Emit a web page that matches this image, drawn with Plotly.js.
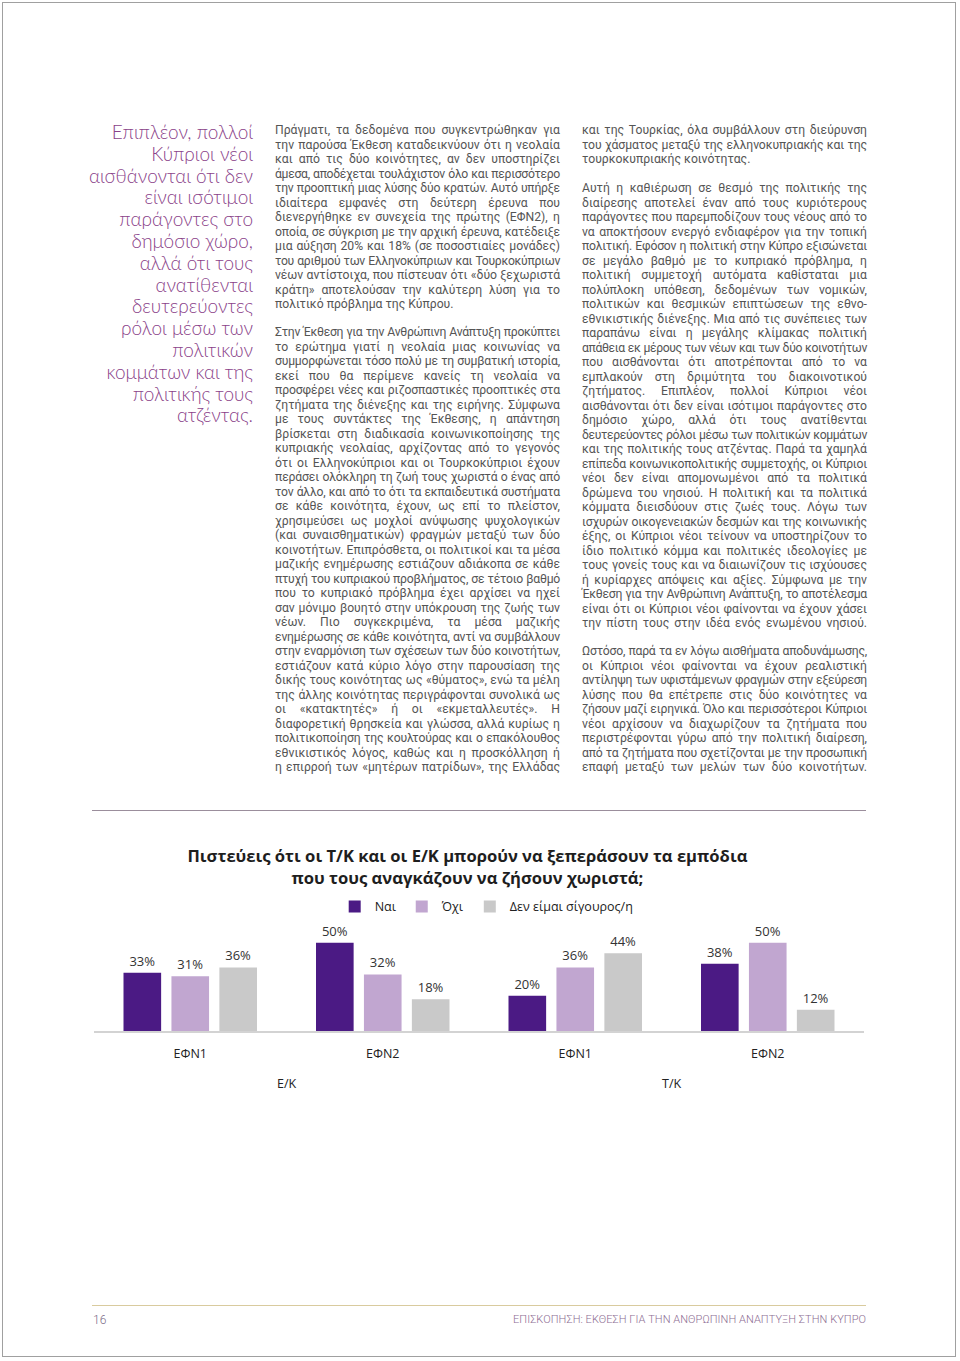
<!DOCTYPE html>
<html><head><meta charset="utf-8">
<script src="https://cdn.plot.ly/plotly-3.0.1.min.js"></script>
<style>
html,body{margin:0;padding:0;background:#fff;}
#page{position:relative;width:960px;height:1361px;overflow:hidden;background:#fff;}
.frame{position:absolute;left:2px;top:2px;width:954px;height:1355px;border:1px solid #a0a0a0;box-sizing:border-box;}
.ln{position:absolute;font-family:Roboto,sans-serif;font-size:12.2px;line-height:14.5px;color:#555;text-align:justify;text-align-last:justify;}
.ln.last{text-align-last:left;}
.pq{position:absolute;font-family:Lato,sans-serif;font-weight:300;font-size:19px;line-height:21.8px;color:#8a4289;text-align:right;white-space:nowrap;}
.rule{position:absolute;height:0;}
.foot{position:absolute;font-family:Roboto,sans-serif;font-weight:300;white-space:nowrap;}
#chart{position:absolute;left:0;top:830px;width:960px;height:280px;}
</style></head>
<body>
<div id="page">
  <div class="frame"></div>
  <div id="text"></div>
  <div class="rule" style="left:92px;top:810px;width:774px;border-top:1.5px solid #9b8e9c;"></div>
  <div class="rule" style="left:92px;top:1305px;width:774px;border-top:1.5px solid #d9cb9e;"></div>
  <div class="foot" style="left:93px;top:1313px;font-size:12px;color:#7a6a86;">16</div>
  <div class="foot" id="ftr" style="right:94px;top:1313px;font-size:11px;color:#8d6e93;">ΕΠΙΣΚΟΠΗΣΗ: ΕΚΘΕΣΗ ΓΙΑ ΤΗΝ ΑΝΘΡΩΠΙΝΗ ΑΝΑΠΤΥΞΗ ΣΤΗΝ ΚΥΠΡΟ</div>
  <div id="chart"></div>
</div>
<script>
// ---- Chart data ----
const communities = ["Ε/Κ","Ε/Κ","Τ/Κ","Τ/Κ"];
const surveys = ["ΕΦΝ1","ΕΦΝ2","ΕΦΝ1","ΕΦΝ2"];
const yesValues = [33,50,20,38];
const noValues = [31,32,36,50];
const notSureValues = [36,18,44,12];
const seriesNames = ["Ναι","Όχι","Δεν είμαι σίγουρος/η"];
const seriesColors = ["#4b1a84","#c1a6d0","#c9c9c9"];
const chartTitle = "Πιστεύεις ότι οι Τ/Κ και οι Ε/Κ μπορούν να ξεπεράσουν τα εμπόδια<br>που τους αναγκάζουν να ζήσουν χωριστά;";

// ---- Page text ----
const pullQuote = ["Επιπλέον, πολλοί","Κύπριοι νέοι","αισθάνονται ότι δεν","είναι ισότιμοι","παράγοντες στο","δημόσιο χώρο,","αλλά ότι τους","ανατίθενται","δευτερεύοντες","ρόλοι μέσω των","πολιτικών","κομμάτων και της","πολιτικής τους","ατζέντας."];

const col1 = [
 {top:123, last:false, lines:[
 "Πράγματι, τα δεδομένα που συγκεντρώθηκαν για",
 "την παρούσα Έκθεση καταδεικνύουν ότι η νεολαία",
 "και από τις δύο κοινότητες, αν δεν υποστηρίζει",
 "άμεσα, αποδέχεται τουλάχιστον όλο και περισσότερο",
 "την προοπτική μιας λύσης δύο κρατών. Αυτό υπήρξε",
 "ιδιαίτερα εμφανές στη δεύτερη έρευνα που",
 "διενεργήθηκε εν συνεχεία της πρώτης (ΕΦΝ2), η",
 "οποία, σε σύγκριση με την αρχική έρευνα, κατέδειξε",
 "μια αύξηση 20% και 18% (σε ποσοστιαίες μονάδες)",
 "του αριθμού των Ελληνοκύπριων και Τουρκοκύπριων",
 "νέων αντίστοιχα, που πίστευαν ότι «δύο ξεχωριστά",
 "κράτη» αποτελούσαν την καλύτερη λύση για το",
 "πολιτικό πρόβλημα της Κύπρου."]},
 {top:325, last:true, lines:[
 "Στην Έκθεση για την Ανθρώπινη Ανάπτυξη προκύπτει",
 "το ερώτημα γιατί η νεολαία μιας κοινωνίας να",
 "συμμορφώνεται τόσο πολύ με τη συμβατική ιστορία,",
 "εκεί που θα περίμενε κανείς τη νεολαία να",
 "προσφέρει νέες και ριζοσπαστικές προοπτικές στα",
 "ζητήματα της διένεξης και της ειρήνης. Σύμφωνα",
 "με τους συντάκτες της Έκθεσης, η απάντηση",
 "βρίσκεται στη διαδικασία κοινωνικοποίησης της",
 "κυπριακής νεολαίας, αρχίζοντας από το γεγονός",
 "ότι οι Ελληνοκύπριοι και οι Τουρκοκύπριοι έχουν",
 "περάσει ολόκληρη τη ζωή τους χωριστά ο ένας από",
 "τον άλλο, και από το ότι τα εκπαιδευτικά συστήματα",
 "σε κάθε κοινότητα, έχουν, ως επί το πλείστον,",
 "χρησιμεύσει ως μοχλοί ανύψωσης ψυχολογικών",
 "(και συναισθηματικών) φραγμών μεταξύ των δύο",
 "κοινοτήτων. Επιπρόσθετα, οι πολιτικοί και τα μέσα",
 "μαζικής ενημέρωσης εστιάζουν αδιάκοπα σε κάθε",
 "πτυχή του κυπριακού προβλήματος, σε τέτοιο βαθμό",
 "που το κυπριακό πρόβλημα έχει αρχίσει να ηχεί",
 "σαν μόνιμο βουητό στην υπόκρουση της ζωής των",
 "νέων. Πιο συγκεκριμένα, τα μέσα μαζικής",
 "ενημέρωσης σε κάθε κοινότητα, αντί να συμβάλλουν",
 "στην εναρμόνιση των σχέσεων των δύο κοινοτήτων,",
 "εστιάζουν κατά κύριο λόγο στην παρουσίαση της",
 "δικής τους κοινότητας ως «θύματος», ενώ τα μέλη",
 "της άλλης κοινότητας περιγράφονται συνολικά ως",
 "οι «κατακτητές» ή οι «εκμεταλλευτές». Η",
 "διαφορετική θρησκεία και γλώσσα, αλλά κυρίως η",
 "πολιτικοποίηση της κουλτούρας και ο επακόλουθος",
 "εθνικιστικός λόγος, καθώς και η προσκόλληση ή",
 "η επιρροή των «μητέρων πατρίδων», της Ελλάδας"]}
];
const col2 = [
 {top:123, last:false, lines:[
 "και της Τουρκίας, όλα συμβάλλουν στη διεύρυνση",
 "του χάσματος μεταξύ της ελληνοκυπριακής και της",
 "τουρκοκυπριακής κοινότητας."]},
 {top:181, last:true, lines:[
 "Αυτή η καθιέρωση σε θεσμό της πολιτικής της",
 "διαίρεσης αποτελεί έναν από τους κυριότερους",
 "παράγοντες που παρεμποδίζουν τους νέους από το",
 "να αποκτήσουν ενεργό ενδιαφέρον για την τοπική",
 "πολιτική. Εφόσον η πολιτική στην Κύπρο εξισώνεται",
 "σε μεγάλο βαθμό με το κυπριακό πρόβλημα, η",
 "πολιτική συμμετοχή αυτόματα καθίσταται μια",
 "πολύπλοκη υπόθεση, δεδομένων των νομικών,",
 "πολιτικών και θεσμικών επιπτώσεων της εθνο-",
 "εθνικιστικής διένεξης. Μια από τις συνέπειες των",
 "παραπάνω είναι η μεγάλης κλίμακας πολιτική",
 "απάθεια εκ μέρους των νέων και των δύο κοινοτήτων",
 "που αισθάνονται ότι αποτρέπονται από το να",
 "εμπλακούν στη δριμύτητα του διακοινοτικού",
 "ζητήματος. Επιπλέον, πολλοί Κύπριοι νέοι",
 "αισθάνονται ότι δεν είναι ισότιμοι παράγοντες στο",
 "δημόσιο χώρο, αλλά ότι τους ανατίθενται",
 "δευτερεύοντες ρόλοι μέσω των πολιτικών κομμάτων",
 "και της πολιτικής τους ατζέντας. Παρά τα χαμηλά",
 "επίπεδα κοινωνικοπολιτικής συμμετοχής, οι Κύπριοι",
 "νέοι δεν είναι απομονωμένοι από τα πολιτικά",
 "δρώμενα του νησιού. Η πολιτική και τα πολιτικά",
 "κόμματα διεισδύουν στις ζωές τους. Λόγω των",
 "ισχυρών οικογενειακών δεσμών και της κοινωνικής",
 "έξης, οι Κύπριοι νέοι τείνουν να υποστηρίζουν το",
 "ίδιο πολιτικό κόμμα και πολιτικές ιδεολογίες με",
 "τους γονείς τους και να διαιωνίζουν τις ισχύουσες",
 "ή κυρίαρχες απόψεις και αξίες. Σύμφωνα με την",
 "Έκθεση για την Ανθρώπινη Ανάπτυξη, το αποτέλεσμα",
 "είναι ότι οι Κύπριοι νέοι φαίνονται να έχουν χάσει",
 "την πίστη τους στην ιδέα ενός ενωμένου νησιού."]},
 {top:644, last:true, lines:[
 "Ωστόσο, παρά τα εν λόγω αισθήματα αποδυνάμωσης,",
 "οι Κύπριοι νέοι φαίνονται να έχουν ρεαλιστική",
 "αντίληψη των υφιστάμενων φραγμών στην εξεύρεση",
 "λύσης που θα επέτρεπε στις δύο κοινότητες να",
 "ζήσουν μαζί ειρηνικά. Όλο και περισσότεροι Κύπριοι",
 "νέοι αρχίσουν να διαχωρίζουν τα ζητήματα που",
 "περιστρέφονται γύρω από την πολιτική διαίρεση,",
 "από τα ζητήματα που σχετίζονται με την προσωπική",
 "επαφή μεταξύ των μελών των δύο κοινοτήτων."]}
];

const textBox = document.getElementById('text');
const measurer = document.createElement('span');
measurer.className = 'ln';
measurer.style.cssText = 'position:absolute;visibility:hidden;white-space:nowrap;left:0;top:0;';
textBox.appendChild(measurer);

function renderColumn(paras, left, width){
  paras.forEach(p => {
    p.lines.forEach((t, i) => {
      const d = document.createElement('div');
      const isLast = (i === p.lines.length - 1) && !p.last;
      d.className = 'ln' + (isLast ? ' last' : '');
      d.style.left = left + 'px';
      d.style.top = (p.top + i * 14.5) + 'px';
      d.style.width = width + 'px';
      d.textContent = t;
      measurer.textContent = t;
      const w = measurer.getBoundingClientRect().width;
      if (w > width - 2) {
        d.style.letterSpacing = (-(w - width + 3) / t.length) + 'px';
      }
      textBox.appendChild(d);
    });
  });
}
renderColumn(col1, 275, 285);
renderColumn(col2, 582, 285);

pullQuote.forEach((t, i) => {
  const d = document.createElement('div');
  d.className = 'pq';
  d.style.right = (960 - 253) + 'px';
  d.style.top = (121 + i * 21.8) + 'px';
  d.textContent = t;
  textBox.appendChild(d);
});

// fit footer text to reference width
const ftr = document.getElementById('ftr');
const fw = ftr.getBoundingClientRect().width;
ftr.style.letterSpacing = ((353 - fw) / ftr.textContent.length) + 'px';

// ---- Chart ----
const catKeys = communities.map((c, i) => c + ' ' + surveys[i]);
const allValues = [yesValues, noValues, notSureValues];
const traces = allValues.map((vals, k) => ({
  type: 'bar',
  name: seriesNames[k],
  x: catKeys,
  y: vals,
  text: vals.map(v => v + '%'),
  textposition: 'outside',
  cliponaxis: false,
  textfont: {family: 'Open Sans, sans-serif', size: 13, color: '#333'},
  marker: {color: seriesColors[k]},
  hoverinfo: 'skip'
}));

// outer group labels centred under their categories
const groups = [...new Set(communities)];
const groupAnnotations = groups.map(g => {
  const idx = communities.map((c, i) => c === g ? i : -1).filter(i => i >= 0);
  const mid = idx.reduce((a, b) => a + b, 0) / idx.length;
  return {text: g, x: mid, xref: 'x', y: -52/106, yref: 'paper', yanchor: 'middle',
          showarrow: false, font: {size: 12.5, color: '#222'}};
});

const layout = {
  width: 960, height: 280,
  margin: {l: 94, r: 96, t: 95, b: 79},
  paper_bgcolor: 'rgba(0,0,0,0)',
  plot_bgcolor: 'rgba(0,0,0,0)',
  font: {family: 'Open Sans, sans-serif', color: '#222'},
  title: {text: chartTitle, x: 0.485, xanchor: 'center', xref: 'paper',
          y: 1 - 32/280, yanchor: 'top', yref: 'container',
          font: {family: 'Open Sans, sans-serif', size: 16.6, color: '#1e1e1e', weight: 'bold'}},
  barmode: 'group',
  bargap: 0.253,
  bargroupgap: 0.215,
  showlegend: true,
  legend: {orientation: 'h', x: 0.51, xanchor: 'center', y: 1.17, yanchor: 'middle',
           font: {size: 12.5, color: '#222'}, itemwidth: 30, traceorder: 'normal'},
  xaxis: {type: 'category', tickvals: catKeys, ticktext: surveys, showline: true, linecolor: '#d3d3d3',
          linewidth: 1.5, showgrid: false, zeroline: false, ticks: '', ticklabelstandoff: 10,
          tickfont: {size: 12.5, color: '#222'}},
  yaxis: {range: [0, 60], visible: false, showgrid: false, zeroline: false},
  annotations: groupAnnotations
};
Plotly.newPlot('chart', traces, layout, {displayModeBar: false, staticPlot: true});
</script>
</body></html>
